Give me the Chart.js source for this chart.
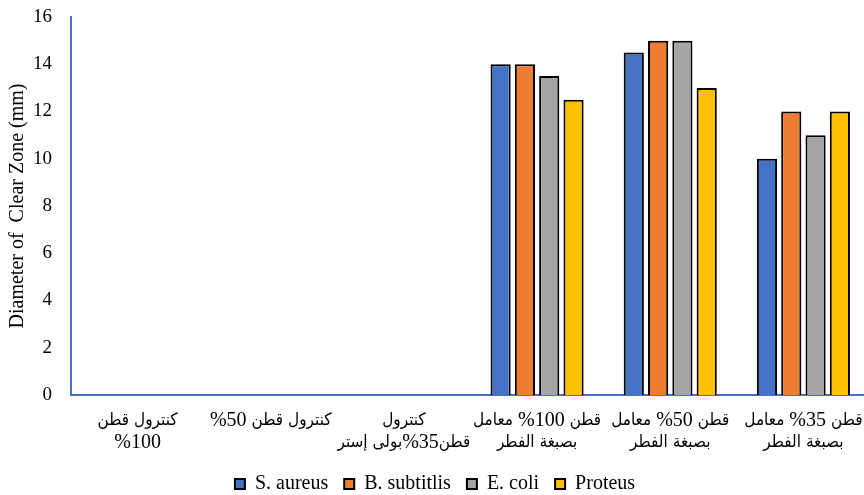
<!DOCTYPE html>
<html lang="en">
<head>
<meta charset="utf-8">
<title>Diameter of Clear Zone</title>
<script src="https://cdn.jsdelivr.net/npm/chart.js@4.4.1/dist/chart.umd.min.js"></script>
<style>
  html, body { margin: 0; padding: 0; background: #fff; overflow: hidden; }
  #wrap { width: 870px; height: 495px; }
</style>
</head>
<body>
<div id="wrap">
  <canvas id="chartClearZone" width="870" height="495"></canvas>
</div>
<script>
// Samples, one entry per label line
const categorias = [
  ['كنترول قطن', '100%'],
  ['كنترول قطن 50%'],
  ['كنترول', 'قطن35%بولى إستر'],
  ['قطن 100% معامل', 'بصبغة الفطر'],
  ['قطن 50% معامل', 'بصبغة الفطر'],
  ['قطن 35% معامل', 'بصبغة الفطر'],
];

// Clear zone diameter (mm) per bacterium
const sAureus = [0, 0, 0, 14, 14.5, 10];
const bSubtilis = [0, 0, 0, 14, 15, 12];
const eColi = [0, 0, 0, 13.5, 15, 11];
const proteus = [0, 0, 0, 12.5, 13, 12];

const yTicks = [0, 2, 4, 6, 8, 10, 12, 14, 16];

const FONT = "'Liberation Serif', 'Times New Roman', serif";
const FONT_AR = "'DejaVu Sans Condensed', 'DejaVu Sans', sans-serif";
const AXIS_BLUE = '#4472C4';

function serie(label, data, cor) {
  return {
    label,
    data,
    backgroundColor: cor,
    borderColor: '#000',
    borderWidth: 2,
    categoryPercentage: 0.73,
    barPercentage: 0.83,
  };
}

// Category labels are right-to-left lines. Each line is cut into pieces
// (Arabic words, digit runs, signs) which are placed from right to left,
// Arabic in the Arabic font and digits/signs in the serif font.
const RE_PARTES = /[\u0600-\u06FF]+|[0-9.]+|[^\u0600-\u06FF0-9.]+/g;
const etiquetasX = {
  id: 'etiquetasX',
  afterDraw(chart) {
    const scale = chart.scales.x;
    const c = chart.ctx;
    const fontAr = `17px ${FONT_AR}`;
    const fontNum = `20px ${FONT}`;
    c.save();
    c.fillStyle = '#000';
    c.textBaseline = 'middle';
    c.textAlign = 'left';
    c.font = fontNum;
    const espaco = c.measureText(' ').width;

    categorias.forEach((linhas, i) => {
      const x = scale.getPixelForTick(i);
      linhas.forEach((linha, j) => {
        const y = scale.top + 26 + j * 22;
        const palavras = linha.split(' ').map((p) =>
          p.match(RE_PARTES).map((t) => {
            const f = /[\u0600-\u06FF]/.test(t) ? fontAr : fontNum;
            c.font = f;
            return { t, f, w: c.measureText(t).width };
          })
        );
        const total =
          palavras.reduce((s, ps) => s + ps.reduce((a, p) => a + p.w, 0), 0) +
          espaco * (palavras.length - 1);
        let cx = x + total / 2;
        palavras.forEach((ps) => {
          ps.forEach((p) => {
            cx -= p.w;
            c.font = p.f;
            c.fillText(p.t, cx, y);
          });
          cx -= espaco;
        });
      });
    });
    c.restore();
  },
};

const ctx = document.getElementById('chartClearZone').getContext('2d');
new Chart(ctx, {
  type: 'bar',
  data: {
    labels: categorias,
    datasets: [
      serie('S. aureus', sAureus, '#4472C4'),
      serie('B. subtitlis', bSubtilis, '#ED7D31'),
      serie('E. coli', eColi, '#A5A5A5'),
      serie('Proteus', proteus, '#FFC000'),
    ],
  },
  plugins: [etiquetasX],
  options: {
    responsive: false,
    animation: false,
    layout: {
      padding: { top: 17, right: 0, bottom: -9, left: 0 },
    },
    plugins: {
      legend: {
        position: 'bottom',
        labels: {
          font: { family: FONT, size: 20 },
          color: '#000',
          boxWidth: 10,
          boxHeight: 10,
          padding: 16,
        },
      },
      tooltip: { enabled: false },
    },
    scales: {
      x: {
        grid: { display: false, drawTicks: false },
        border: { display: true, color: AXIS_BLUE, width: 2 },
        ticks: { display: false },
        afterFit: (scale) => {
          scale.height = 63;
          scale.paddingLeft = 0;
          scale.paddingRight = 0;
        },
      },
      y: {
        min: 0,
        max: 16,
        afterBuildTicks: (scale) => { scale.ticks = yTicks.map((v) => ({ value: v })); },
        grid: { display: false, drawTicks: false },
        border: { display: true, color: AXIS_BLUE, width: 2 },
        ticks: {
          font: { family: FONT, size: 19 },
          color: '#000',
          padding: 19,
        },
        title: {
          display: true,
          text: 'Diameter of  Clear Zone (mm)',
          font: { family: FONT, size: 20 },
          color: '#000',
          padding: { top: 6, bottom: 0 },
        },
        afterFit: (scale) => {
          scale.width = 71;
          scale.paddingTop = 0;
          scale.paddingBottom = 0;
        },
      },
    },
  },
});
</script>
</body>
</html>
